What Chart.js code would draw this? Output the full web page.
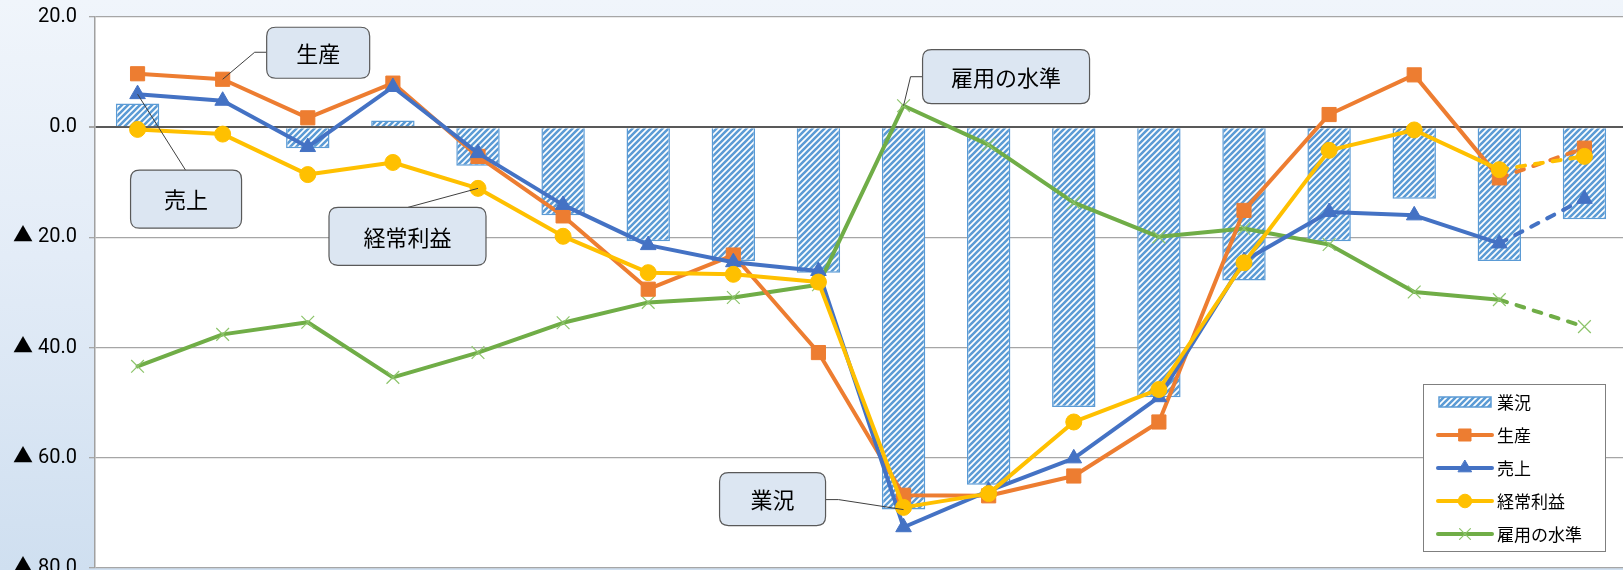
<!DOCTYPE html>
<html lang="ja">
<head>
<meta charset="utf-8">
<script src="https://cdn.jsdelivr.net/npm/chart.js@4.4.1/dist/chart.umd.min.js"></script>
<style>
  html, body { margin: 0; padding: 0; width: 1623px; height: 570px; overflow: hidden; }
  body { background: linear-gradient(180deg, #f0f5fb 0%, #e3ecf7 45%, #cfdff0 100%); }
  #wrap { position: absolute; left: 0; top: -7px; width: 1638px; height: 600px; }
</style>
</head>
<body>
<div id="wrap"><canvas id="chart"></canvas></div>
<script>
// 18 periods (x axis labels are outside the visible crop)
const categories = ["1", "2", "3", "4", "5", "6", "7", "8", "9", "10", "11", "12", "13", "14", "15", "16", "17", "18"];

const gyokyo = [4.3, 0, -3.8, 1.2, -7.0, -16.0, -20.7, -24.3, -26.4, -69.4, -64.9, -50.8, -49.0, -27.8, -20.7, -13.0, -24.3, -16.7];
const seisan = [9.7, 8.7, 1.7, 8.0, -5.3, -16.1, -29.4, -23.2, -40.9, -66.8, -66.9, -63.3, -53.5, -15.1, 2.3, 9.5, -9.2, -3.8];
const uriage = [6.0, 4.8, -3.6, 7.3, -4.7, -14.1, -21.4, -24.5, -26.1, -72.6, -66.0, -60.1, -49.0, -24.3, -15.4, -16.0, -21.1, -13.0];
const keijo = [-0.4, -1.25, -8.6, -6.4, -11.1, -19.8, -26.4, -26.7, -28.1, -69.0, -66.5, -53.5, -47.6, -24.6, -4.2, -0.5, -7.7, -5.3];
const koyo = [-43.4, -37.6, -35.4, -45.4, -40.9, -35.5, -31.8, -30.9, -28.6, 3.9, -3.2, -13.7, -19.9, -18.4, -21.3, -29.9, -31.3, -36.2];

const yTicks = [20, 0, -20, -40, -60, -80];

const FONT = "'Noto Sans CJK JP', 'Noto Sans', sans-serif";
const NUMFONT = "Roboto, 'Noto Sans CJK JP', sans-serif";

// hatch pattern for 業況 bars
function hatch() {
  const p = document.createElement("canvas");
  p.width = p.height = 6;
  const c = p.getContext("2d");
  c.fillStyle = "#ffffff";
  c.fillRect(0, 0, 6, 6);
  c.strokeStyle = "#5B9BD5";
  c.lineWidth = 2.6;
  c.beginPath();
  c.moveTo(-1, 7); c.lineTo(7, -1);
  c.moveTo(-1, 1); c.lineTo(1, -1);
  c.moveTo(5, 7); c.lineTo(7, 5);
  c.stroke();
  return c.createPattern(p, "repeat");
}
const pattern = hatch();

// last segment (forecast) is dashed
const dashLast = { borderDash: (ctx) => (ctx.p0DataIndex === categories.length - 2 ? [8, 10] : undefined) };

function lineSet(label, data, color, style, radius, order, extra) {
  return Object.assign({
    type: "line",
    label: label,
    data: data,
    borderColor: color,
    backgroundColor: color,
    borderWidth: 4,
    borderCapStyle: "round",
    borderJoinStyle: "round",
    tension: 0,
    pointStyle: style,
    pointRadius: radius,
    pointHoverRadius: radius,
    pointBackgroundColor: color,
    pointBorderColor: color,
    pointBorderWidth: 1,
    segment: dashLast,
    order: order,
  }, extra || {});
}

// callouts: anchored to a data point, offsets in px
const callouts = [
  { text: "生産", ds: 1, idx: 1, box: [44, -52, 103, 51], path: [[32, -27], [44, -27]] },
  { text: "売上", ds: 2, idx: 0, box: [-7, 76, 111, 58], path: [[48, 76]] },
  { text: "経常利益", ds: 3, idx: 4, box: [-149, 19, 157, 58], path: [[-70, 19]] },
  { text: "雇用の水準", ds: 4, idx: 9, box: [19, -56, 167, 54], path: [[7, -29], [19, -29]] },
  { text: "業況", ds: 0, idx: 9, box: [-184, -37, 106, 53], path: [[-65, -10], [-78, -10]] },
];

function roundRect(ctx, x, y, w, h, r) {
  ctx.beginPath();
  ctx.moveTo(x + r, y);
  ctx.lineTo(x + w - r, y);
  ctx.quadraticCurveTo(x + w, y, x + w, y + r);
  ctx.lineTo(x + w, y + h - r);
  ctx.quadraticCurveTo(x + w, y + h, x + w - r, y + h);
  ctx.lineTo(x + r, y + h);
  ctx.quadraticCurveTo(x, y + h, x, y + h - r);
  ctx.lineTo(x, y + r);
  ctx.quadraticCurveTo(x, y, x + r, y);
  ctx.closePath();
}

const plotBg = {
  id: "plotBg",
  beforeDraw(chart) {
    const a = chart.chartArea, ctx = chart.ctx;
    ctx.save();
    ctx.fillStyle = "#ffffff";
    ctx.fillRect(a.left, a.top, a.right - a.left, a.bottom - a.top);
    ctx.restore();
  },
};

const calloutPlugin = {
  id: "callouts",
  afterDatasetsDraw(chart) {
    const ctx = chart.ctx;
    ctx.save();
    callouts.forEach((c) => {
      const el = chart.getDatasetMeta(c.ds).data[c.idx];
      const px = el.x, py = el.y;
      ctx.strokeStyle = "#404040";
      ctx.lineWidth = 1;
      ctx.beginPath();
      ctx.moveTo(px, py);
      c.path.forEach((p) => ctx.lineTo(px + p[0], py + p[1]));
      ctx.stroke();
      const [dx, dy, w, h] = c.box;
      roundRect(ctx, px + dx, py + dy, w, h, 9);
      ctx.fillStyle = "#dce6f2";
      ctx.fill();
      ctx.strokeStyle = "#595959";
      ctx.lineWidth = 1.2;
      ctx.stroke();
      ctx.fillStyle = "#000000";
      ctx.font = "22px " + FONT;
      ctx.textAlign = "center";
      ctx.textBaseline = "middle";
      ctx.fillText(c.text, px + dx + w / 2, py + dy + h / 2 + 1);
    });
    ctx.restore();
  },
};

const legendPlugin = {
  id: "boxLegend",
  afterDatasetsDraw(chart) {
    const ctx = chart.ctx;
    const x = 1423, y = 391, w = 182, h = 167, first = 409, step = 33;
    ctx.save();
    ctx.fillStyle = "#ffffff";
    ctx.fillRect(x, y, w, h);
    ctx.strokeStyle = "#7f7f7f";
    ctx.lineWidth = 1;
    ctx.strokeRect(x + 0.5, y + 0.5, w, h);
    chart.data.datasets.forEach((ds, i) => {
      const cy = first + i * step;
      const x0 = x + 15, x1 = x + 69;
      if (ds.type === "line") {
        ctx.strokeStyle = ds.borderColor;
        ctx.lineWidth = ds.borderWidth;
        ctx.lineCap = "round";
        ctx.beginPath();
        ctx.moveTo(x0, cy);
        ctx.lineTo(x1, cy);
        ctx.stroke();
        ctx.fillStyle = ds.pointBackgroundColor;
        ctx.strokeStyle = ds.pointBorderColor;
        ctx.lineWidth = ds.pointBorderWidth;
        Chart.helpers.drawPoint(ctx, { pointStyle: ds.pointStyle, radius: ds.pointRadius * 0.85, borderWidth: ds.pointBorderWidth, rotation: 0 }, (x0 + x1) / 2, cy);
      } else {
        ctx.fillStyle = ds.backgroundColor;
        ctx.fillRect(x0 + 1, cy - 5, x1 - x0 - 2, 10);
        ctx.strokeStyle = ds.borderColor;
        ctx.lineWidth = 1.5;
        ctx.strokeRect(x0 + 1, cy - 5, x1 - x0 - 2, 10);
      }
      ctx.fillStyle = "#000000";
      ctx.font = "17px " + FONT;
      ctx.textAlign = "left";
      ctx.textBaseline = "middle";
      ctx.fillText(ds.label, x + 74, cy + 1);
    });
    ctx.restore();
  },
};

new Chart(document.getElementById("chart"), {
  type: "bar",
  data: {
    labels: categories,
    datasets: [
      {
        type: "bar",
        label: "業況",
        data: gyokyo,
        backgroundColor: pattern,
        borderColor: "#5B9BD5",
        borderWidth: 1.5,
        barPercentage: 0.51,
        categoryPercentage: 1,
        order: 5,
      },
      lineSet("生産", seisan, "#ED7D31", "rect", 10, 3),
      lineSet("売上", uriage, "#4472C4", "triangle", 9, 2),
      lineSet("経常利益", keijo, "#FFC000", "circle", 8, 1),
      lineSet("雇用の水準", koyo, "#70AD47", "crossRot", 9, 4, { pointBorderColor: "#8cc46a", pointBorderWidth: 1.2 }),
    ],
  },
  options: {
    responsive: true,
    maintainAspectRatio: false,
    animation: false,
    layout: { padding: { top: 15, bottom: 25, left: 0, right: 0 } },
    plugins: {
      legend: { display: false },
      tooltip: { enabled: false },
    },
    scales: {
      x: { display: false },
      y: {
        min: yTicks[yTicks.length - 1],
        max: yTicks[0],
        afterFit: (s) => { s.width = 95; },
        afterBuildTicks: (s) => { s.ticks = yTicks.map((v) => ({ value: v })); },
        ticks: {
          color: "#000000",
          padding: 12,
          font: { family: NUMFONT, size: 20 },
          callback: (v) => (v < 0 ? "▲ " + Math.abs(v).toFixed(1) : Number(v).toFixed(1)),
        },
        grid: {
          color: (c) => (c.tick && c.tick.value === 0 ? "#595959" : "#a6a6a6"),
          lineWidth: (c) => (c.tick && c.tick.value === 0 ? 2 : 1.3),
          tickColor: "#a6a6a6",
          tickLength: 6,
        },
        border: { color: "#a0a0a0", width: 1.5 },
      },
    },
  },
  plugins: [plotBg, calloutPlugin, legendPlugin],
});
</script>
</body>
</html>
